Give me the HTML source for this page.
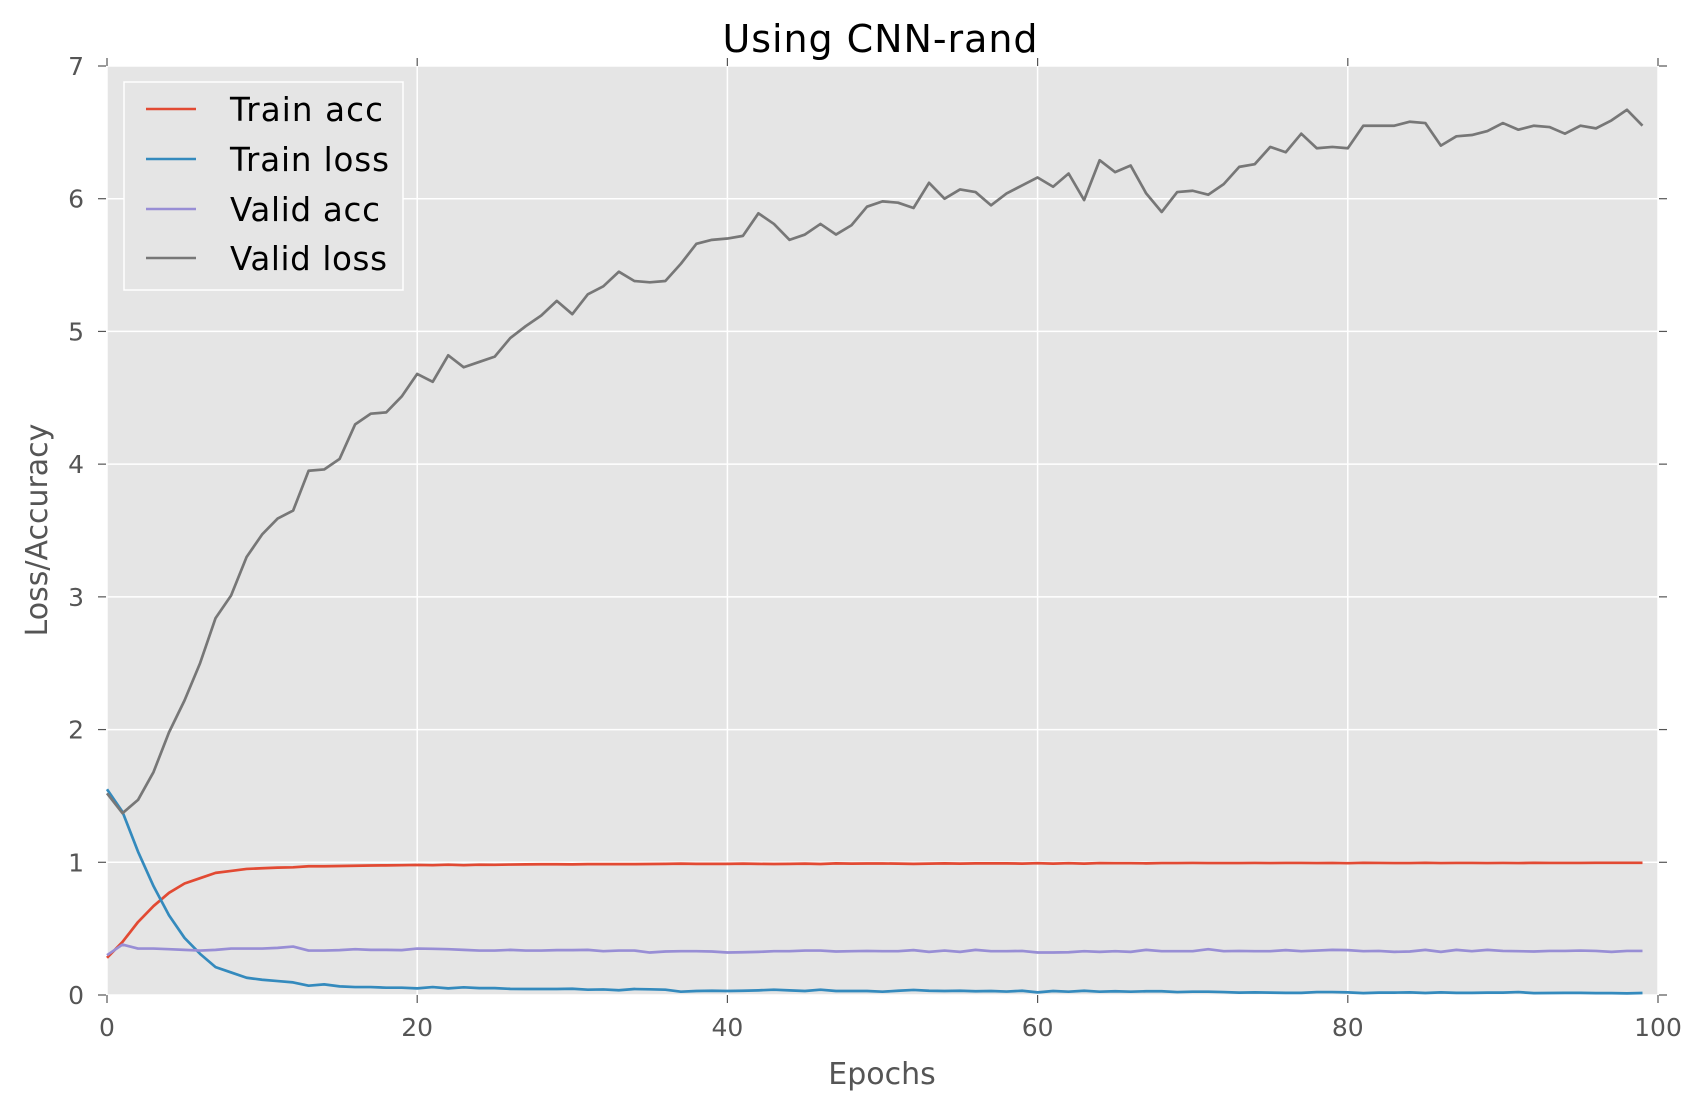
<!DOCTYPE html>
<html><head><meta charset="utf-8"><style>
body{margin:0;background:#fff}
svg{display:block;font-family:"DejaVu Sans","Liberation Sans",sans-serif}
</style></head><body>
<svg id="chart" width="1703" height="1112" viewBox="0 0 1703 1112">
<rect x="0" y="0" width="1703" height="1112" fill="#fff"/>
<rect x="107" y="66" width="1551" height="929" fill="#E5E5E5"/>
<g id="grid"></g>
<g id="ticks"></g>
<g id="series"></g>
<text x="880" y="52" font-size="38" text-anchor="middle" fill="#000" textLength="315">Using CNN-rand</text>
<text x="882" y="1084" font-size="30" text-anchor="middle" fill="#555">Epochs</text>
<text transform="translate(47,530) rotate(-90)" font-size="30" text-anchor="middle" fill="#555">Loss/Accuracy</text>
<g>
<rect x="124" y="82" width="279" height="208" fill="#E5E5E5" stroke="#fff" stroke-width="1.5"/>
<g><line x1="146" y1="109" x2="196" y2="109" stroke="#E24A33" stroke-width="2.6"/><text x="230" y="121" font-size="32.5" fill="#000" textLength="153">Train acc</text></g>
<g><line x1="146" y1="159" x2="196" y2="159" stroke="#348ABD" stroke-width="2.6"/><text x="230" y="171" font-size="32.5" fill="#000" textLength="159">Train loss</text></g>
<g><line x1="146" y1="209" x2="196" y2="209" stroke="#988ED5" stroke-width="2.6"/><text x="230" y="221" font-size="32.5" fill="#000" textLength="150">Valid acc</text></g>
<g><line x1="146" y1="258" x2="196" y2="258" stroke="#777777" stroke-width="2.6"/><text x="230" y="270" font-size="32.5" fill="#000" textLength="157">Valid loss</text></g>
</g>
</svg>
<script>
const xTicks=[0,20,40,60,80,100];
const yTicks=[0,1,2,3,4,5,6,7];
const trainAcc=[0.28,0.40,0.55,0.67,0.77,0.84,0.88,0.92,0.935,0.95,0.955,0.96,0.962,0.97,0.97,0.972,0.974,0.976,0.977,0.978,0.98,0.978,0.982,0.978,0.982,0.981,0.983,0.984,0.985,0.985,0.984,0.986,0.986,0.986,0.986,0.987,0.988,0.99,0.988,0.988,0.988,0.99,0.988,0.987,0.988,0.99,0.987,0.992,0.99,0.991,0.991,0.99,0.988,0.99,0.992,0.99,0.992,0.992,0.992,0.99,0.993,0.99,0.993,0.99,0.994,0.993,0.993,0.992,0.994,0.994,0.995,0.994,0.994,0.994,0.995,0.994,0.995,0.995,0.994,0.995,0.993,0.996,0.995,0.994,0.994,0.996,0.994,0.995,0.995,0.994,0.995,0.994,0.996,0.995,0.995,0.995,0.996,0.996,0.996,0.996];
const trainLoss=[1.55,1.38,1.08,0.82,0.60,0.43,0.31,0.21,0.17,0.13,0.115,0.105,0.095,0.07,0.08,0.065,0.06,0.06,0.055,0.055,0.05,0.06,0.05,0.058,0.052,0.052,0.046,0.045,0.045,0.045,0.047,0.04,0.042,0.036,0.045,0.043,0.04,0.025,0.03,0.032,0.03,0.032,0.035,0.04,0.035,0.03,0.04,0.03,0.03,0.03,0.025,0.032,0.038,0.032,0.03,0.032,0.028,0.03,0.026,0.032,0.02,0.03,0.025,0.032,0.025,0.028,0.025,0.028,0.028,0.022,0.025,0.025,0.022,0.018,0.02,0.018,0.016,0.016,0.022,0.022,0.02,0.014,0.018,0.018,0.02,0.015,0.02,0.016,0.016,0.018,0.018,0.022,0.014,0.015,0.016,0.016,0.014,0.014,0.012,0.015];
const validAcc=[0.30,0.38,0.35,0.35,0.345,0.34,0.335,0.34,0.35,0.35,0.35,0.355,0.365,0.335,0.335,0.338,0.345,0.34,0.34,0.338,0.35,0.348,0.345,0.34,0.335,0.335,0.34,0.335,0.335,0.338,0.338,0.34,0.33,0.335,0.335,0.32,0.328,0.33,0.33,0.328,0.32,0.322,0.325,0.33,0.33,0.335,0.335,0.328,0.33,0.332,0.33,0.33,0.338,0.325,0.335,0.325,0.34,0.33,0.33,0.332,0.32,0.32,0.322,0.33,0.325,0.33,0.325,0.34,0.33,0.33,0.33,0.345,0.33,0.332,0.33,0.33,0.338,0.33,0.335,0.34,0.338,0.33,0.332,0.325,0.328,0.34,0.325,0.34,0.33,0.34,0.332,0.33,0.328,0.332,0.332,0.335,0.332,0.325,0.332,0.332];
const validLoss=[1.52,1.37,1.47,1.68,1.98,2.22,2.50,2.84,3.01,3.30,3.47,3.59,3.65,3.95,3.96,4.04,4.30,4.38,4.39,4.51,4.68,4.62,4.82,4.73,4.77,4.81,4.95,5.04,5.12,5.23,5.13,5.28,5.34,5.45,5.38,5.37,5.38,5.51,5.66,5.69,5.70,5.72,5.89,5.81,5.69,5.73,5.81,5.73,5.80,5.94,5.98,5.97,5.93,6.12,6.00,6.07,6.05,5.95,6.04,6.10,6.16,6.09,6.19,5.99,6.29,6.20,6.25,6.04,5.90,6.05,6.06,6.03,6.11,6.24,6.26,6.39,6.35,6.49,6.38,6.39,6.38,6.55,6.55,6.55,6.58,6.57,6.40,6.47,6.48,6.51,6.57,6.52,6.55,6.54,6.49,6.55,6.53,6.59,6.67,6.55];

const L=107,R=1658,T=66,B=995;
const xs=v=>L+(v-0)/(100-0)*(R-L);
const ys=v=>B-(v-0)/(7-0)*(B-T);
const NS='http://www.w3.org/2000/svg';
const grid=document.getElementById('grid'),ticks=document.getElementById('ticks'),series=document.getElementById('series');
function mk(tag,attrs,parent){const e=document.createElementNS(NS,tag);for(const k in attrs)e.setAttribute(k,attrs[k]);parent.appendChild(e);return e;}
xTicks.forEach(t=>{
  const X=xs(t);
  const g=mk('line',{x1:X,y1:T,x2:X,y2:B,stroke:'#fff','stroke-width':1.5},grid);
  
  
  mk('line',{x1:X,y1:B,x2:X,y2:B+8,stroke:'#555','stroke-width':1.2},ticks);
  mk('line',{x1:X,y1:T,x2:X,y2:T-8,stroke:'#555','stroke-width':1.2},ticks);
  const tx=mk('text',{x:X,y:1036,'font-size':25,'text-anchor':'middle',fill:'#555'},ticks);
  tx.textContent=t;
  
  
});
yTicks.forEach(t=>{
  const Y=ys(t);
  const g=mk('line',{x1:L,y1:Y,x2:R,y2:Y,stroke:'#fff','stroke-width':1.5},grid);
  
  
  mk('line',{x1:L-9,y1:Y,x2:L-1,y2:Y,stroke:'#555','stroke-width':1.2},ticks);
  mk('line',{x1:R+1,y1:Y,x2:R+9,y2:Y,stroke:'#555','stroke-width':1.2},ticks);
  const tx=mk('text',{x:84,y:Y+9,'font-size':25,'text-anchor':'end',fill:'#555'},ticks);
  tx.textContent=t;
  
  
});
function line(arr,color,name){
  const d=arr.map((v,i)=>(i?'L':'M')+xs(i).toFixed(2)+','+ys(v).toFixed(2)).join('');
  const p=mk('path',{d:d,fill:'none',stroke:color,'stroke-width':2.7,'stroke-linejoin':'round'},series);
  
  
}
line(trainAcc,'#E24A33','train-acc-line');
line(trainLoss,'#348ABD','train-loss-line');
line(validAcc,'#988ED5','valid-acc-line');
line(validLoss,'#777777','valid-loss-line');
</script>
</body></html>
